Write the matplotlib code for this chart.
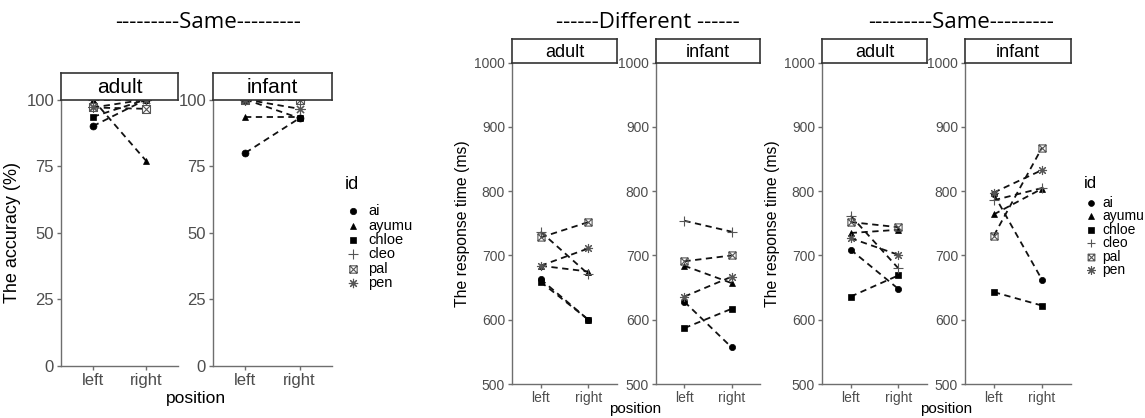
import numpy as np
import matplotlib
matplotlib.use('Agg')
from matplotlib import pyplot as plt
from matplotlib.path import Path
from matplotlib.lines import Line2D

plt.rcParams['font.family'] = ['Liberation Sans', 'DejaVu Sans']

# ---- data ----
ids = ['ai', 'ayumu', 'chloe', 'cleo', 'pal', 'pen']
positions = ['left', 'right']

# accuracy (%), "Same" condition
acc_adult_left = [90, 100, 93.5, 100, 97, 97]
acc_adult_right = [100, 77, 100, 100, 96.5, 100]
acc_infant_left = [80, 93.5, 100, 100, 100, 100]
acc_infant_right = [93, 93.5, 93, 100, 100, 96.5]

# response time (ms), "Different" condition
rt_diff_adult_left = [663, 684, 659, 737, 728, 684]
rt_diff_adult_right = [600, 675, 600, 671, 752, 711]
rt_diff_infant_left = [628, 684, 587, 754, 691, 636]
rt_diff_infant_right = [557, 657, 617, 737, 700, 667]

# response time (ms), "Same" condition
rt_same_adult_left = [709, 735, 636, 762, 752, 727]
rt_same_adult_right = [648, 740, 669, 680, 744, 701]
rt_same_infant_left = [795, 764, 643, 786, 731, 798]
rt_same_infant_right = [662, 804, 622, 805, 868, 833]

# ---- styles ----
sq_cross = Path([(-1, -1), (1, -1), (1, 1), (-1, 1), (-1, -1),
                 (-1, -1), (1, 1), (-1, 1), (1, -1)],
                [Path.MOVETO, Path.LINETO, Path.LINETO, Path.LINETO, Path.CLOSEPOLY,
                 Path.MOVETO, Path.LINETO, Path.MOVETO, Path.LINETO])
markers = {'ai': 'o', 'ayumu': '^', 'chloe': 's', 'cleo': '+', 'pal': sq_cross, 'pen': (8, 2, 0)}
filled = {'ai': True, 'ayumu': True, 'chloe': True, 'cleo': False, 'pal': False, 'pen': False}
GREY = '#4d4d4d'
SPINE = '#6e6e6e'

W, H = 1145, 418
fig = plt.figure(figsize=(W / 100, H / 100), dpi=100)


def box(x0, x1, y0, y1):
    return [x0 / W, 1 - y1 / H, (x1 - x0) / W, (y1 - y0) / H]


def mstyle(i, ms):
    m = markers[i]
    if filled[i]:
        return dict(marker=m, markersize=ms, markerfacecolor='black',
                    markeredgecolor='black', markeredgewidth=0.5)
    size = ms * (1.15 if i == 'pal' else 1.45)
    return dict(marker=m, markersize=size, markerfacecolor='none',
                markeredgecolor='#555555', markeredgewidth=0.8)


def panel(x0, x1, y0, y1, strip_h, left, right, ylim, yticks, label, fs_tick, fs_strip, ms):
    ax = fig.add_axes(box(x0, x1, y0, y1))
    for k, i in enumerate(ids):
        ax.plot([1, 2], [left[k], right[k]], color='#111111', linestyle=(0, (3.5, 2.5)),
                linewidth=1.3, **mstyle(i, ms))
    ax.set_xlim(0.4, 2.6)
    ax.set_ylim(*ylim)
    ax.set_xticks([1, 2])
    ax.set_xticklabels(positions)
    ax.set_yticks(yticks)
    for s in ['top', 'right']:
        ax.spines[s].set_visible(False)
    for s in ['left', 'bottom']:
        ax.spines[s].set_color(SPINE)
        ax.spines[s].set_linewidth(1.0)
    ax.tick_params(colors=SPINE, labelcolor=GREY, labelsize=fs_tick, length=3, width=1.0, pad=2)
    # facet strip
    st = fig.add_axes(box(x0, x1, y0 - strip_h, y0))
    st.set_xticks([])
    st.set_yticks([])
    for s in st.spines.values():
        s.set_color('#333333')
        s.set_linewidth(1.2)
    st.text(0.5, 0.45, label, ha='center', va='center', fontsize=fs_strip, transform=st.transAxes)
    return ax


def legend(x_title, y_title, x_mark, x_text, y0, dy, fs, fs_title, ms):
    fig.text(x_title / W, 1 - y_title / H, 'id', ha='left', va='center', fontsize=fs_title)
    for k, i in enumerate(ids):
        y = 1 - (y0 + k * dy) / H
        fig.add_artist(Line2D([x_mark / W], [y], transform=fig.transFigure,
                              linestyle='none', **mstyle(i, ms)))
        fig.text(x_text / W, y, i, ha='left', va='center', fontsize=fs)


# ---- left group: accuracy, Same ----
ax = panel(61, 178, 99.5, 366, 26.5, acc_adult_left, acc_adult_right, (0, 100),
           [0, 25, 50, 75, 100], 'adult', 12, 15, 5)
ax.set_ylabel('The accuracy (%)', fontsize=13, color='black', labelpad=4)
panel(213, 332, 99.5, 366, 26.5, acc_infant_left, acc_infant_right, (0, 100),
      [0, 25, 50, 75, 100], 'infant', 12, 15, 5)
fig.text(196 / W, 1 - 398 / H, 'position', ha='center', va='center', fontsize=12.5)
fig.text(208 / W, 1 - 23 / H, '---------Same---------', ha='center', va='center',
         fontsize=16, family='Open Sans')

# ---- middle group: RT, Different ----
rt_ticks = [500, 600, 700, 800, 900, 1000]
ax = panel(512, 617, 62.7, 384, 23.4, rt_diff_adult_left, rt_diff_adult_right, (500, 1000),
           rt_ticks, 'adult', 10, 13, 4.5)
ax.set_ylabel('The response time (ms)', fontsize=11.3, color='black', labelpad=3)
ax = panel(656, 760, 62.7, 384, 23.4, rt_diff_infant_left, rt_diff_infant_right, (500, 1000),
           rt_ticks, 'infant', 10, 13, 4.5)
fig.text(635 / W, 1 - 409 / H, 'position', ha='center', va='center', fontsize=11)
fig.text(648 / W, 1 - 22 / H, '------Different ------', ha='center', va='center',
         fontsize=16, family='Open Sans')

# ---- right group: RT, Same ----
ax = panel(822, 927, 62.7, 384, 23.4, rt_same_adult_left, rt_same_adult_right, (500, 1000),
           rt_ticks, 'adult', 10, 13, 4.5)
ax.set_ylabel('The response time (ms)', fontsize=11.3, color='black', labelpad=3)
panel(965, 1071, 62.7, 384, 23.4, rt_same_infant_left, rt_same_infant_right, (500, 1000),
      rt_ticks, 'infant', 10, 13, 4.5)
fig.text(946 / W, 1 - 409 / H, 'position', ha='center', va='center', fontsize=11)
fig.text(961 / W, 1 - 22 / H, '---------Same---------', ha='center', va='center',
         fontsize=16, family='Open Sans')

# ---- legends ----
legend(345, 185, 353, 368, 211.5, 14.3, 10.5, 13, 4.6)
legend(1084, 183, 1091, 1102, 203, 13.4, 10, 12, 4.2)

fig.savefig('out.png', dpi=100)
